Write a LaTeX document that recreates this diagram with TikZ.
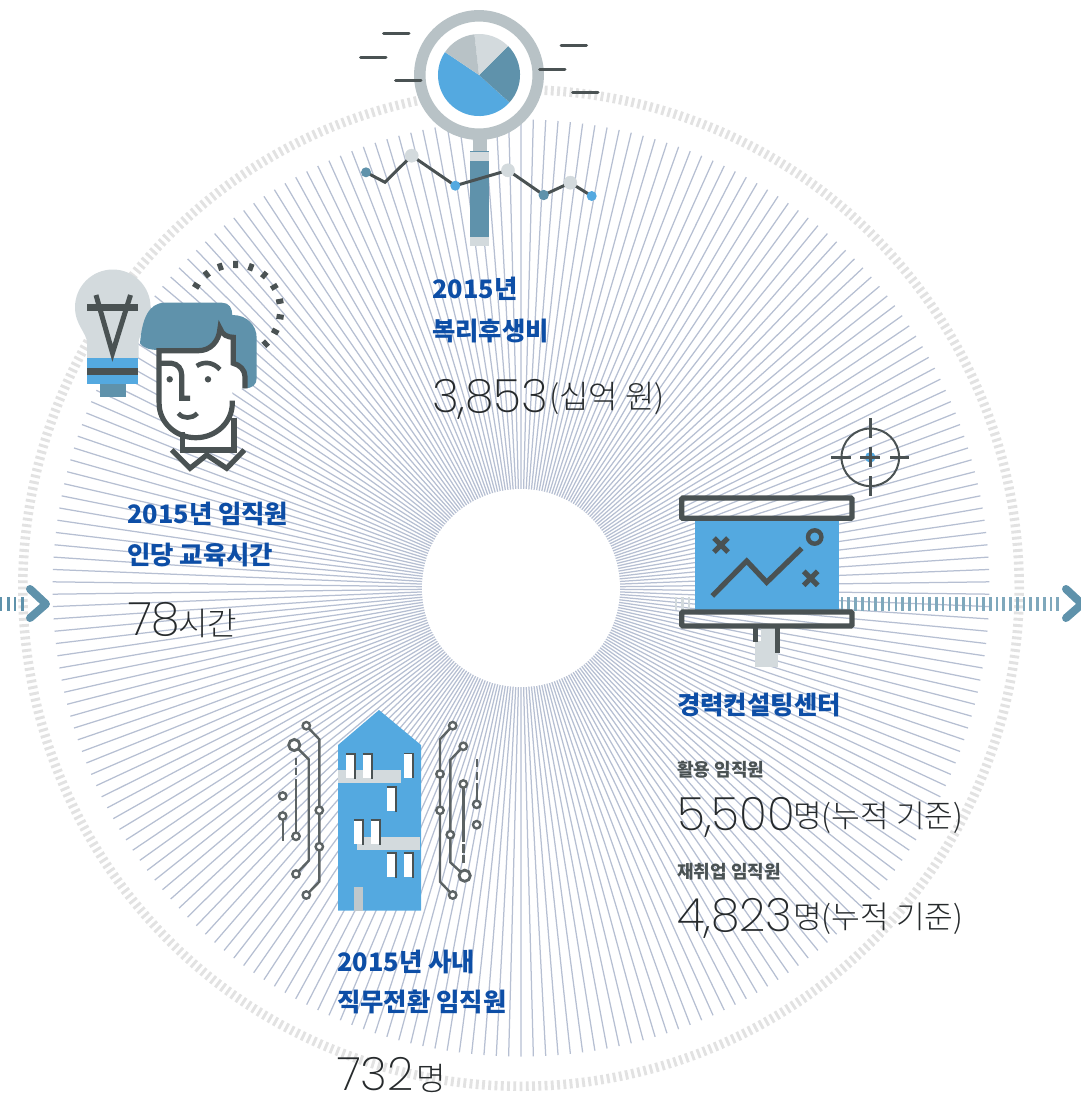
\documentclass[tikz,border=0pt]{standalone}
\usepackage{fontspec}
\setmainfont{Noto Sans CJK KR}
\newfontfamily\krlight{Noto Sans CJK KR Light}
\newfontfamily\numthin{Poppins ExtraLight}
\definecolor{dk}{HTML}{4A5253}
\definecolor{teal}{HTML}{5F92AB}
\definecolor{sky}{HTML}{54A9E0}
\definecolor{lt}{HTML}{D3DADD}
\definecolor{gr}{HTML}{B8C2C6}
\definecolor{rayc}{HTML}{B6BFD2}
\definecolor{ringc}{HTML}{E2E2E2}
\definecolor{head}{HTML}{0D4EA6}
\definecolor{body}{HTML}{262A2C}
\tikzset{
 ttl/.style={anchor=base west,inner sep=0pt,text=head,font=\fontsize{25.4}{30}\selectfont\bfseries},
 sub/.style={anchor=base west,inner sep=0pt,text=dk,font=\fontsize{18}{20}\selectfont\bfseries},
 bignum/.style={anchor=base west,inner sep=0pt,text=body,font=\fontsize{46}{50}\selectfont\numthin},
 unit/.style={anchor=base west,inner sep=0pt,text=body,font=\fontsize{32}{34}\selectfont\krlight},
 unitb/.style={anchor=base west,inner sep=0pt,text=body,font=\fontsize{31.2}{34}\selectfont\krlight},
 ink/.style={draw=dk,line width=5.2pt},
 trace/.style={draw=dk!90!white,line width=2.4pt},
 pad/.style={trace,fill=white},
 dashln/.style={draw=dk,line width=3pt,line cap=round},
}
\newcommand{\win}[2]{\fill[white] (#1,#2) rectangle ++(8.5,25);
 \draw[dk,line width=1.8pt] (#1,#2+.8) -- ++(9,0) -- ++(0,24.8);}
\begin{document}
\begin{tikzpicture}[x=1pt,y=-1pt]
\useasboundingbox (0,0) rectangle (1080,1096);
% ring and rays
\draw[ringc,line width=2.9pt] \foreach \i in {0,...,499} {
 ({521+493.5*cos(\i*.72)},{588+493.5*sin(\i*.72)}) -- ({521+503*cos(\i*.72)},{588+503*sin(\i*.72)})};
\draw[rayc,line width=1.25pt] \foreach \i in {0,...,237} {
 ({521+95*cos(90+\i*1.512605)},{588+95*sin(90+\i*1.512605)}) -- ({521+468.5*cos(90+\i*1.512605)},{588+468.5*sin(90+\i*1.512605)})};
\fill[white] (521,588) circle (99);
% axis ticks and chevrons
\draw[teal,line width=2.6pt] \foreach \x in {1,8.3,15,22.3} {(\x,597) -- (\x,611)};
\draw[teal!80!white,line width=2.6pt] \foreach \i in {0,...,32} {({842+\i*6.74},597) -- ({842+\i*6.74},611)};
\draw[lt,line width=2.6pt] \foreach \x in {676,682.7,689} {(\x,597) -- (\x,610)};
\draw[teal,line width=8pt,line cap=round,line join=round] (30,589) -- (46,604) -- (30,618);
\draw[teal,line width=8pt,line cap=round,line join=round] (1066,589) -- (1082,604) -- (1066,618);
% magnifier
\fill[gr] (472.7,125) rectangle (486.7,152);
\fill[teal] (470,151) rectangle (489,238);
\fill[lt] (470,152) rectangle (489,161);
\fill[lt] (470,237) rectangle (489,246);
\draw[gr,line width=11.5pt,fill=white] (479,75) circle (59.2);
\fill[sky] (479,75) -- ++(-34,-22.9) arc[start angle=-146,end angle=-318,radius=41] -- cycle;
\fill[teal] (479,75) -- ++(30.5,27.4) arc[start angle=42,end angle=-45,radius=41] -- cycle;
\fill[lt] (479,75) -- ++(29,-29) arc[start angle=-45,end angle=-96.5,radius=41] -- cycle;
\fill[gr] (479,75) -- ++(-4.6,-40.7) arc[start angle=-96.5,end angle=-146,radius=41] -- cycle;
\draw[dashln] (383.5,33.7) -- (409,33.7) (360.5,57) -- (386,57) (395.5,80.7) -- (421,80.7)
 (561,45) -- (586.5,45) (539.5,69) -- (565,69) (572.5,92.3) -- (598,92.3);
\draw[dk,line width=3pt] (366,172.3) -- (385,182.3) -- (411.7,155.7) -- (455.3,185.7) -- (508,170.3) -- (543.7,195) -- (570.3,182.7) -- (591.7,196);
\fill[teal] (366,172.3) circle (5) (543.7,195) circle (5.2);
\fill[sky] (455.3,185.7) circle (5) (591.7,196) circle (5);
\draw[lt,fill=lt] (411.7,155.7) circle (6.6);
\draw[lt,fill=lt] (508,170.3) circle (6.6);
\draw[lt,fill=lt] (570.3,182.7) circle (6.6);
% bulb
\fill[lt] (87,358) -- (87,343) .. controls (87,333) and (75,325) .. (75,307.3) arc[start angle=180,end angle=360,radius=37.8] .. controls (150.6,325) and (138.5,333) .. (138.5,343) -- (138.5,358) -- cycle;
\fill[sky] (87,358) rectangle (138,384);
\fill[dk] (87,367.7) rectangle (138,375);
\fill[teal] (100,384) rectangle (126,396.7);
\fill[dk] (87,304) rectangle (138,311);
\draw[dk,line width=5pt] (96,295) -- (112.5,353) -- (130.5,295);
% person
\fill[teal] (140,343.3) .. controls (142,320) and (148,302.7) .. (165,302.7) -- (222,302.7) .. controls (229,302.7) and (232.3,308) .. (232.3,315) .. controls (247,315) and (256.7,325) .. (256.7,338.3) -- (256.7,378) .. controls (256.7,385) and (252,388.3) .. (245,388.3) -- (220,388.3) -- (159,350) .. controls (150,350) and (143,348) .. (140,343.3) -- cycle;
\fill[white] (159,350.7) -- (198.3,350.7) .. controls (210,350.7) and (220,342) .. (220,328.3) .. controls (222,335) and (228,337.3) .. (233.3,337.3) -- (233.3,363.3) .. controls (240,365) and (245,370) .. (245,376.7) -- (245,388.3) -- (232.3,390) -- (232.3,403.3) arc[start angle=0,end angle=180,x radius=36.6,y radius=34.4] -- cycle;
\draw[ink,fill=white] (182.7,432) -- (182.7,450) -- (234,450) -- (234,418);
\draw[ink] (232.3,400.7) -- (232.3,403.3) arc[start angle=0,end angle=180,x radius=36.6,y radius=34.4] -- (159,350.7) -- (198.3,350.7) .. controls (210,350.7) and (219,342) .. (220,328.3) .. controls (222,335) and (228,337.3) .. (233.3,337.3) -- (233.3,363.3) .. controls (240,365) and (245,370) .. (245,376.7) -- (245,388.3);
\draw[ink] (159,363.3) -- (171.7,363.3) .. controls (178,364) and (181.7,369) .. (181.7,375) -- (181.7,398.3) -- (190,398.3);
\draw[ink,line width=4.6pt] (196.7,366) .. controls (204,361) and (213,362) .. (220,369.5);
\draw[ink,line width=4.6pt] (178.3,413.3) .. controls (183,419) and (192,419) .. (197.3,413.3);
\fill[dk] (169.7,379.3) circle (3.2) (208,379.3) circle (3.2);
\draw[ink] (171.7,450) -- (190,468.3) -- (206.7,455) -- (226.7,468.3) -- (244.3,450);
\draw[dk,line width=5pt] \foreach \a in {0,...,10} {
 ({235+42*cos(147.8-\a*19.55)},{310-42*sin(147.8-\a*19.55)}) -- ({235+49.2*cos(147.8-\a*19.55)},{310-49.2*sin(147.8-\a*19.55)})};
% board
\fill[lt] (761,628) rectangle (775,642);
\fill[lt] (755,641) rectangle (778,666.7);
\fill[sky] (695,518) rectangle (839,610);
\draw[ink,rounded corners=1pt] (681.7,498) rectangle (852,518.3);
\draw[ink,rounded corners=1pt] (681.7,612) rectangle (852,626);
\draw[ink] (755.7,626) -- (755.7,641.7) (777.3,626) -- (777.3,652.7);
\draw[ink] (712.3,596) -- (746.7,561) -- (766.7,582.3) -- (801.7,548.3);
\draw[ink,line width=4.4pt] (814.7,537) circle (6.7);
\draw[ink] (714,538) -- (728,552) (728,538) -- (714,552);
\draw[ink] (803.7,571.3) -- (817.7,585.3) (817.7,571.3) -- (803.7,585.3);
\fill[sky] (870.3,457.3) circle (5.3);
\draw[dk,line width=2pt] (870.3,457.3) circle (28.8);
\draw[dk,line width=3pt] (870.3,418.3) -- (870.3,437.7) (870.3,476) -- (870.3,495.7) (831,457.3) -- (851,457.3) (890,457.3) -- (909,457.3) (860,457.3) -- (880,457.3) (870.3,447.3) -- (870.3,466.7);
% building
\fill[sky] (338,745) -- (379,710) -- (421,745) -- (421,910.7) -- (338,910.7) -- cycle;
\fill[lt] (338,770) rectangle (401,782.7);
\fill[lt] (357,837) rectangle (420,849.7);
\fill[gr!90!white] (354,887) rectangle (363,910.7);
\win{346}{753.3}\win{362.7}{753.3}\win{404}{752.7}\win{387.3}{786}
\win{354}{819}\win{370.7}{819}\win{387.3}{852}\win{404}{852}
% circuits
\draw[trace] (306.3,725.7) -- (319.3,739.3) -- (319.3,881.7) -- (306.3,895);
\draw[pad] (306.3,725.7) circle (3.7) (306.3,895) circle (3.7) (319.3,810.3) circle (3.7) (319.3,846.7) circle (3.7);
\draw[trace] (294.3,745) -- (308.7,759.3) -- (308.7,860.7) -- (296,874);
\draw[pad,line width=2.8pt] (294.3,745) circle (5.6);
\draw[pad] (296,874) circle (3.7);
\draw[trace] (296,757.7) -- (296,765) (296,768.3) -- (296,775) (296,779.3) -- (296,836.3);
\draw[pad] (296,836.3) circle (3.7);
\draw[pad] (282.7,796) circle (3.7);
\draw[trace] (282.7,816) -- (282.7,841);
\draw[pad] (282.7,816) circle (3.7);
\draw[trace] (452.7,725.7) -- (440,739.3) -- (440,881.7) -- (452.7,895);
\draw[pad] (452.7,725.7) circle (3.7) (452.7,895) circle (3.7) (440,774) circle (3.7) (440,810.3) circle (3.7);
\draw[trace] (463.3,746.3) -- (450.3,760) -- (450.3,862.3) -- (464.7,875.7);
\draw[pad] (463.3,746.3) circle (3.7) (450.3,834.7) circle (3.7);
\draw[pad,line width=2.8pt] (464.7,875.7) circle (5.6);
\draw[trace] (463.3,784) -- (463.3,841.7) (463.3,844.3) -- (463.3,852.7) (463.3,855) -- (463.3,863);
\draw[pad] (463.3,784) circle (3.7);
\draw[trace] (476.7,759) -- (476.7,766.7) (476.7,771.7) -- (476.7,780) (476.7,783.3) -- (476.7,800);
\draw[pad] (476.7,804.3) circle (3.7) (476.7,824.7) circle (3.7);
% text
\node[ttl] (t1a) at (432,298) {2015년};
\node[ttl] (t1b) at (432,340) {복리후생비};
\node[bignum] (n1) at (432,412) {3,853};
\node[unit] (u1) at (549,408) {(십억 원)};
\node[ttl] (t2a) at (127,523) {2015년 임직원};
\node[ttl] (t2b) at (127,564) {인당 교육시간};
\node[bignum] (n2) at (128,635) {78};
\node[unit] (u2) at (178,635) {시간};
\node[ttl] (t3) at (677,714) {경력컨설팅센터};
\node[sub] (s1) at (677,776) {활용 임직원};
\node[bignum] (n3) at (677,830) {5,500};
\node[unitb] (u3) at (793,827) {명(누적 기준)};
\node[sub] (s2) at (677,878) {재취업 임직원};
\node[bignum] (n4) at (677,931) {4,823};
\node[unitb] (u4) at (793,928) {명(누적 기준)};
\node[ttl] (t4a) at (337,971) {2015년 사내};
\node[ttl] (t4b) at (337,1011) {직무전환 임직원};
\node[bignum] (n5) at (337,1090) {732};
\node[unit] (u5) at (416,1090) {명};
\end{tikzpicture}
\end{document}
